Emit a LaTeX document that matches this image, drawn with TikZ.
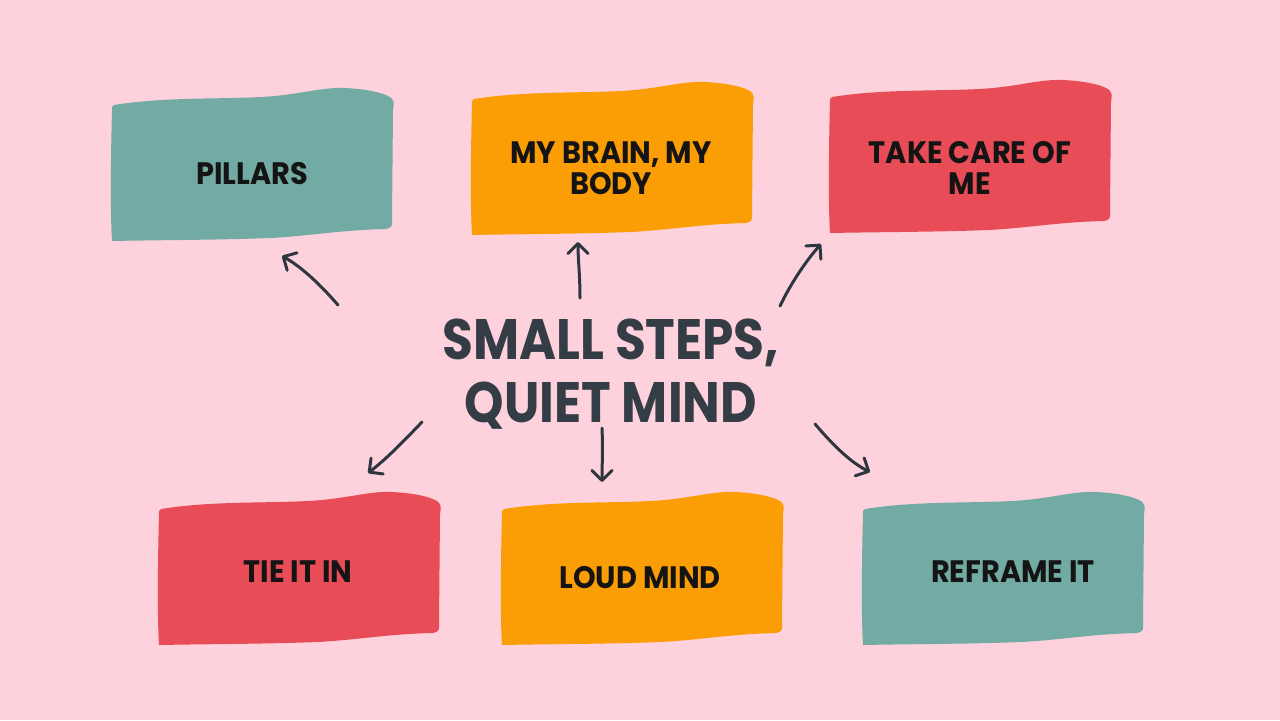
\documentclass[tikz,border=0pt]{standalone}
\usepackage{fontspec}
\setmainfont{Poppins}[FakeStretch=0.88]
\newfontfamily\boxfont{Poppins}[FakeStretch=0.93]
\usetikzlibrary{arrows.meta}
\definecolor{bgpink}{HTML}{FDD2DC}
\definecolor{tealbox}{HTML}{72AAA4}
\definecolor{orangebox}{HTML}{FB9D04}
\definecolor{redbox}{HTML}{E84C56}
\definecolor{titlecol}{HTML}{343C46}
\definecolor{arrowcol}{HTML}{2E3640}
\newcommand\wavybox[3]{%
  \begin{scope}[shift={(#1,#2)}]
    \fill[#3] (4,17) .. controls (60,8) and (120,12) .. (165,8)
      .. controls (195,5) and (215,-1) .. (235,0)
      .. controls (255,1) and (270,4) .. (278,8)
      .. controls (285,11) and (284,16) .. (283,22)
      -- (282,132)
      .. controls (283,138) and (281,140) .. (276,141)
      .. controls (230,142) and (200,148) .. (160,150)
      .. controls (110,152) and (50,152) .. (2,153)
      .. controls (0,120) and (1,60) .. (2,22)
      .. controls (2,19) and (2,18) .. (4,17) -- cycle;
  \end{scope}}
\begin{document}
\begin{tikzpicture}[x=0.5pt,y=-0.5pt,
  boxlabel/.style={font=\boxfont\bfseries\fontsize{15.5}{15.5}\selectfont, text=black!92, align=center, inner sep=0pt},
  titlelabel/.style={font=\bfseries\fontsize{28.5}{31.5}\selectfont, text=titlecol, align=center, inner sep=0pt},
  sketcharrow/.style={draw=arrowcol, line width=1.5pt, line cap=round, line join=round,
    -{Straight Barb[round,length=5pt,width=10pt]}}]
\fill[bgpink] (0,0) rectangle (1280,720);
\useasboundingbox (0,0) rectangle (1280,720);

\wavybox{110}{88}{tealbox}
\wavybox{470}{82}{orangebox}
\wavybox{828}{80}{redbox}
\wavybox{157}{492}{redbox}
\wavybox{500}{492}{orangebox}
\wavybox{861}{492}{tealbox}

\node[boxlabel] (pillars) at (252,174) {PILLARS};
\node[boxlabel] (brain) at (611,168) {MY BRAIN, MY\\BODY};
\node[boxlabel] (care) at (970,168) {TAKE CARE OF\\ME};
\node[boxlabel] (tie) at (298,572) {TIE IT IN};
\node[boxlabel] (loud) at (640,578) {LOUD MIND};
\node[boxlabel] (reframe) at (1013,572) {REFRAME IT};

\node[titlelabel] (title) at (611,374) {SMALL STEPS,\\QUIET MIND};

\coordinate (s1) at (338,305); \coordinate (e1) at (282,256);
\coordinate (s2) at (580,298); \coordinate (e2) at (578,242);
\coordinate (s3) at (780,306); \coordinate (e3) at (821,244);
\coordinate (s4) at (422,422); \coordinate (e4) at (368,473);
\coordinate (s5) at (602,428); \coordinate (e5) at (602,482);
\coordinate (s6) at (815,424); \coordinate (e6) at (870,472);

\draw[sketcharrow] (s1) .. controls (318,282) and (300,266) .. (e1);
\draw[sketcharrow] (s2) .. controls (580,275) and (578,260) .. (e2);
\draw[sketcharrow] (s3) .. controls (790,285) and (805,262) .. (e3);
\draw[sketcharrow] (s4) .. controls (400,445) and (385,460) .. (e4);
\draw[sketcharrow] (s5) .. controls (603,450) and (602,465) .. (e5);
\draw[sketcharrow] (s6) .. controls (833,445) and (850,462) .. (e6);
\end{tikzpicture}
\end{document}
